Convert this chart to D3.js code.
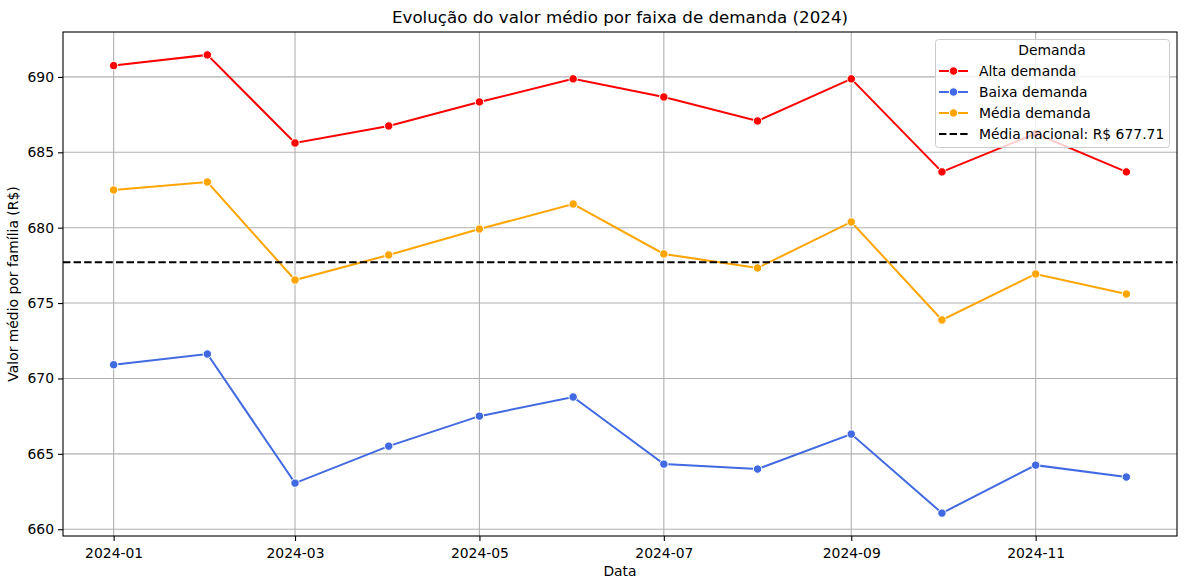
<!DOCTYPE html>
<html><head><meta charset="utf-8">
<script src="https://cdn.jsdelivr.net/npm/d3@7"></script>
<style>body{margin:0;background:#fff}svg{display:block}text{font-family:"DejaVu Sans",sans-serif;fill:#000}</style>
</head><body><svg id="c" width="1185" height="584"></svg>
<script>
const months = ["2024-01","2024-02","2024-03","2024-04","2024-05","2024-06","2024-07","2024-08","2024-09","2024-10","2024-11","2024-12"];
const alta  = [690.75,691.46,685.62,686.75,688.34,689.87,688.67,687.08,689.87,683.70,686.25,683.70];
const baixa = [670.91,671.62,663.06,665.51,667.50,668.77,664.32,663.99,666.31,661.07,664.25,663.46];
const media = [682.50,683.03,676.53,678.19,679.91,681.57,678.26,677.33,680.38,673.88,676.93,675.60];
const mediaNacional = 677.71;
const seriesNames = ["Alta demanda","Baixa demanda","Média demanda"];
const seriesColors = ["#ff0000","#4169e1","#ffa500"];
const yTicks = [660,665,670,675,680,685,690];
const xTickLabels = ["2024-01","2024-03","2024-05","2024-07","2024-09","2024-11"];

const svg = d3.select("#c");
const L=63,R=1177,T=32,B=536;
const FS="13.9px";
const parse = d3.timeParse("%Y-%m");
const dates = months.map(parse);
const d0 = dates[0], d1 = dates[dates.length-1];
const span = d1-d0;
const x = d3.scaleTime().domain([new Date(+d0-span*0.05), new Date(+d1+span*0.05)]).range([L,R]);
const all = alta.concat(baixa, media);
const ymin=d3.min(all), ymax=d3.max(all), yr=ymax-ymin;
const y = d3.scaleLinear().domain([ymin-yr*0.05, ymax+yr*0.05]).range([B,T]);

// grid
const g = svg.append("g");
g.selectAll(".gx").data(xTickLabels.map(parse)).enter().append("line")
 .attr("x1",d=>x(d)).attr("x2",d=>x(d)).attr("y1",T).attr("y2",B)
 .attr("stroke","#b0b0b0").attr("stroke-width",1.1);
g.selectAll(".gy").data(yTicks).enter().append("line")
 .attr("x1",L).attr("x2",R).attr("y1",d=>y(d)).attr("y2",d=>y(d))
 .attr("stroke","#b0b0b0").attr("stroke-width",1.1);

// series
const data = [alta,baixa,media];
const line = d3.line().x((d,i)=>x(dates[i])).y(d=>y(d));
data.forEach((s,k)=>{
  svg.append("path").datum(s).attr("d",line).attr("fill","none")
    .attr("stroke",seriesColors[k]).attr("stroke-width",2);
  svg.append("g").selectAll("circle").data(s).enter().append("circle")
    .attr("cx",(d,i)=>x(dates[i])).attr("cy",d=>y(d)).attr("r",4.2)
    .attr("fill",seriesColors[k]).attr("stroke","#fff").attr("stroke-width",1);
});
// national mean
svg.append("line").attr("x1",L).attr("x2",R).attr("y1",y(mediaNacional)).attr("y2",y(mediaNacional))
 .attr("stroke","#000").attr("stroke-width",2).attr("stroke-dasharray","7.4,3.2");

// axes
const xa = svg.append("g").attr("transform",`translate(0,${B})`)
 .call(d3.axisBottom(x).tickValues(xTickLabels.map(parse)).tickFormat(d3.timeFormat("%Y-%m")).tickSizeOuter(0).tickSize(5).tickPadding(4));
const ya = svg.append("g").attr("transform",`translate(${L},0)`)
 .call(d3.axisLeft(y).tickValues(yTicks).tickSizeOuter(0).tickSize(5).tickPadding(4));
[xa,ya].forEach(a=>{a.select(".domain").remove();a.selectAll("text").style("font-size",FS).attr("font-family","DejaVu Sans");a.selectAll("line").attr("stroke","#000").attr("stroke-width",1.1);});
xa.selectAll("text").attr("dy","0.9em");
svg.append("rect").attr("x",L).attr("y",T).attr("width",R-L).attr("height",B-T)
 .attr("fill","none").attr("stroke","#000").attr("stroke-width",1.1);

// labels
svg.append("text").attr("x",(L+R)/2).attr("y",23).attr("text-anchor","middle").style("font-size","16.7px").text("Evolução do valor médio por faixa de demanda (2024)");
svg.append("text").attr("x",(L+R)/2).attr("y",576).attr("text-anchor","middle").style("font-size",FS).text("Data");
svg.append("text").attr("transform",`translate(18,${(T+B)/2}) rotate(-90)`).attr("text-anchor","middle").style("font-size",FS).text("Valor médio por família (R$)");

// legend
const lg = svg.append("g");
lg.append("rect").attr("x",935.5).attr("y",39.5).attr("width",234).attr("height",108).attr("rx",3)
 .attr("fill","#fff").attr("fill-opacity",0.8).attr("stroke","#cccccc").attr("stroke-width",1);
lg.append("text").attr("x",1052).attr("y",55).attr("text-anchor","middle").style("font-size",FS).text("Demanda");
const entries = seriesNames.map((n,i)=>({n,c:seriesColors[i],dash:null,m:true}))
 .concat([{n:"Média nacional: R$ "+mediaNacional.toFixed(2),c:"#000",dash:"7.4,3.2",m:false}]);
entries.forEach((e,i)=>{
  const yy = 71+i*21;
  lg.append("line").attr("x1",939).attr("x2",968).attr("y1",yy).attr("y2",yy).attr("stroke",e.c).attr("stroke-width",2).attr("stroke-dasharray",e.dash);
  if(e.m) lg.append("circle").attr("cx",953.5).attr("cy",yy).attr("r",4.2).attr("fill",e.c).attr("stroke","#fff").attr("stroke-width",1);
  lg.append("text").attr("x",979).attr("y",yy+5).style("font-size",FS).text(e.n);
});
</script></body></html>
